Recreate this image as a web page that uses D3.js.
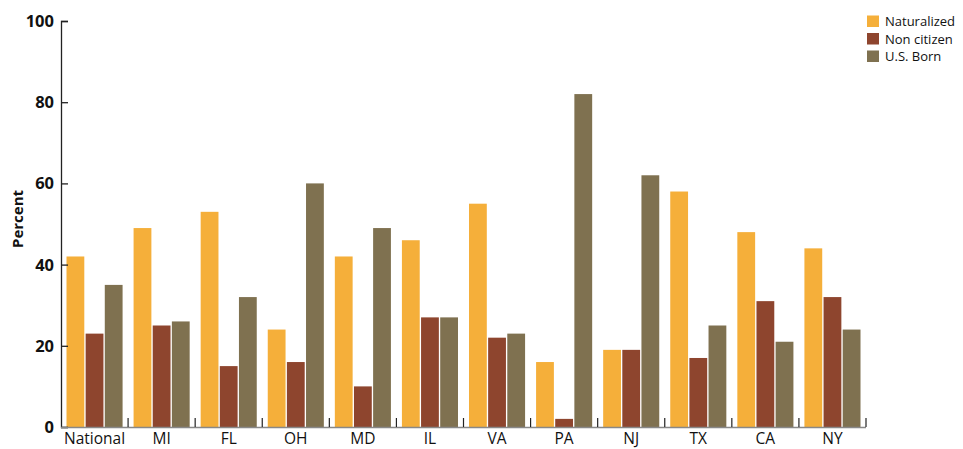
<!DOCTYPE html>
<html><head><meta charset="utf-8">
<script src="https://cdn.jsdelivr.net/npm/d3@7"></script>
<style>body{margin:0;background:#fff}svg{display:block}</style>
</head><body>
<svg id="c" width="963" height="449"></svg>
<script>
const categories = ["National","MI","FL","OH","MD","IL","VA","PA","NJ","TX","CA","NY"];
const seriesNames = ["Naturalized","Non citizen","U.S. Born"];
const naturalized = [42,49,53,24,42,46,55,16,19,58,48,44];
const nonCitizen  = [23,25,15,16,10,27,22,2,19,17,31,32];
const usBorn      = [35,26,32,60,49,27,23,82,62,25,21,24];
const yTicks = [0,20,40,60,80,100];
const colors = ["#F5AF3A","#8E452E","#7F7150"];

const series = [naturalized, nonCitizen, usBorn];
const svg = d3.select("#c");
const x0 = 61, x1 = 866, yTop = 21, yBot = 427;
const font = "'Open Sans', 'DejaVu Sans', sans-serif";

const x = d3.scaleBand().domain(categories).range([x0, x1]).paddingInner(0).paddingOuter(0);
const xs = d3.scaleBand().domain(seriesNames).range([5.5, x.bandwidth()-5.5]).paddingInner(0.07);
const y = d3.scaleLinear().domain([0,100]).range([yBot, yTop]);

// bars
const g = svg.append("g");
categories.forEach((c,i)=>{
  series.forEach((s,j)=>{
    g.append("rect")
      .attr("x", x(c)+xs(seriesNames[j]))
      .attr("y", y(s[i]))
      .attr("width", xs.bandwidth())
      .attr("height", y(0)-y(s[i]))
      .attr("fill", colors[j]);
  });
});

// y axis
const ya = svg.append("g").attr("transform",`translate(${x0},0)`)
  .call(d3.axisRight(y).tickValues(yTicks).tickSize(7).tickFormat(""));
ya.select(".domain").attr("stroke","#222").attr("stroke-width",1.3);
ya.selectAll(".tick line").attr("stroke","#222").attr("stroke-width",1.3);
svg.append("g").selectAll("text").data(yTicks).join("text")
  .attr("x", 54).attr("y", d=>y(d)+6)
  .attr("text-anchor","end")
  .attr("font-family",font).attr("font-weight","bold").attr("font-size",16.5)
  .attr("fill","#111").text(d=>d);

// x axis
svg.append("line").attr("x1",x0).attr("x2",x1).attr("y1",yBot+0.5).attr("y2",yBot+0.5)
  .attr("stroke","#888").attr("stroke-width",1.5);
svg.append("g").selectAll("line").data(categories).join("line")
  .attr("x1",d=>x(d)+x.bandwidth()).attr("x2",d=>x(d)+x.bandwidth())
  .attr("y1",yBot-9).attr("y2",yBot).attr("stroke","#222").attr("stroke-width",1.2);
svg.append("g").selectAll("text").data(categories).join("text")
  .attr("x",d=>x(d)+x.bandwidth()/2).attr("y",444)
  .attr("text-anchor","middle")
  .attr("font-family",font).attr("font-size",15.5).attr("fill","#111").text(d=>d);

// y label
svg.append("text").attr("transform","translate(23,219) rotate(-90)")
  .attr("text-anchor","middle").attr("font-family",font).attr("font-weight","bold")
  .attr("font-size",15).attr("fill","#111").text("Percent");

// legend
const lg = svg.append("g");
seriesNames.forEach((n,j)=>{
  lg.append("rect").attr("x",867).attr("y",15.5+j*17.5).attr("width",12).attr("height",11.5).attr("fill",colors[j]);
  lg.append("text").attr("x",885).attr("y",26+j*17.5).attr("font-family",font)
    .attr("font-size",13).attr("fill","#111").text(n);
});
</script>
</body></html>
